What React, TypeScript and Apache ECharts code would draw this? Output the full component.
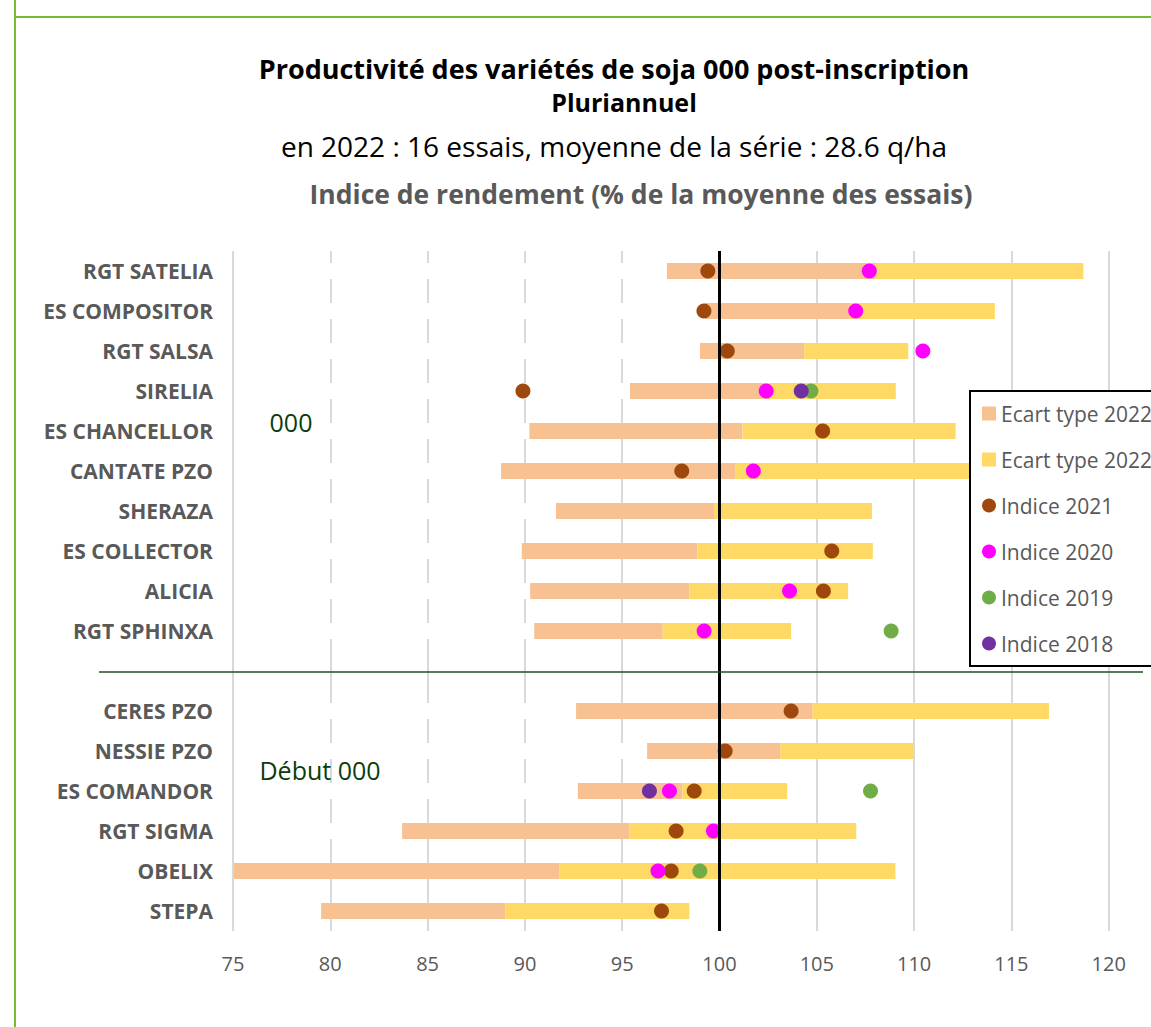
import React, { useEffect, useRef } from "react";
import * as echarts from "echarts";

const categories = [
  "RGT SATELIA", "ES COMPOSITOR", "RGT SALSA", "SIRELIA", "ES CHANCELLOR",
  "CANTATE PZO", "SHERAZA", "ES COLLECTOR", "ALICIA", "RGT SPHINXA", "",
  "CERES PZO", "NESSIE PZO", "ES COMANDOR", "RGT SIGMA", "OBELIX", "STEPA",
];
const indice2022 = [108.0, 106.7, 104.35, 102.23, 101.18, 100.8, 99.72, 98.86, 98.44, 97.08, null, 104.78, 103.12, 98.1, 95.36, 91.76, 88.99];
const ecartType2022 = [10.7, 7.45, 5.35, 6.83, 10.95, 12.02, 8.12, 9.02, 8.17, 6.6, null, 12.15, 6.84, 5.38, 11.67, 17.28, 9.46];
const indice2021 = [99.4, 99.2, 100.4, 89.9, 105.3, 98.06, null, 105.77, 105.34, null, null, 103.68, 100.29, 98.7, 97.77, 97.52, 97.02];
const indice2020 = [107.7, 107.0, 110.45, 102.4, null, 101.74, null, null, 103.6, 99.21, null, null, null, 97.43, 99.69, 96.84, null];
const indice2019 = [null, null, null, 104.7, null, null, null, null, null, 108.82, null, null, null, 107.76, null, 98.99, null];
const indice2018 = [null, null, null, 104.2, null, null, null, null, null, null, null, null, null, 96.4, null, null, null];
const xTicks = { min: 75, max: 125, interval: 5, lastLabel: 120 };
const titleLines = [
  "Productivité des variétés de soja 000 post-inscription",
  "Pluriannuel",
  "en 2022 : 16 essais, moyenne de la série : 28.6 q/ha",
  "Indice de rendement (% de la moyenne des essais)",
];

const FONT = "'Open Sans', sans-serif";
const GRAY = "#595959";

function points(arr: (number | null)[]) {
  const out: [number, number][] = [];
  arr.forEach((v, i) => {
    if (v != null) out.push([v, i]);
  });
  return out;
}

export default function App() {
  const ref = useRef<HTMLDivElement>(null);
  useEffect(() => {
    if (!ref.current) return;
    const chart = echarts.init(ref.current, undefined, { renderer: "svg" });
    const base = indice2022.map((v, i) => (v == null ? "-" : +(v - (ecartType2022[i] as number)).toFixed(2)));
    const sd = ecartType2022.map((v) => (v == null ? "-" : v));
    const scatter = (name: string, arr: (number | null)[], color: string, z: number) => ({
      name,
      type: "scatter",
      data: points(arr),
      symbolSize: 15,
      itemStyle: { color, opacity: 1 },
      z,
    });
    chart.setOption({
      animation: false,
      backgroundColor: "#ffffff",
      textStyle: { fontFamily: FONT },
      grid: { left: 233, top: 251, width: 973, height: 680 },
      xAxis: {
        type: "value",
        min: xTicks.min,
        max: xTicks.max,
        interval: xTicks.interval,
        axisLine: { show: false },
        axisTick: { show: false },
        axisLabel: {
          color: GRAY,
          fontSize: 20,
          fontFamily: FONT,
          margin: 22,
          formatter: (v: number) => (v > xTicks.lastLabel ? "" : String(v)),
        },
        splitLine: { show: true, lineStyle: { color: "#d9d9d9", width: 2 } },
      },
      yAxis: {
        type: "category",
        inverse: true,
        data: categories,
        axisLine: { show: false },
        axisTick: { show: false },
        axisLabel: { color: GRAY, fontSize: 21, fontWeight: "bold", fontFamily: FONT, margin: 20 },
        splitLine: { show: false },
      },
      legend: {
        orient: "vertical",
        left: 970,
        top: 391,
        z: 30,
        backgroundColor: "#ffffff",
        borderColor: "#000000",
        borderWidth: 2,
        borderRadius: 0,
        padding: [12, 40, 12, 12],
        itemWidth: 14,
        itemHeight: 14,
        itemGap: 25,
        itemStyle: { borderWidth: 0 },
        textStyle: { color: GRAY, fontSize: 21, fontFamily: FONT, lineHeight: 20 },
        data: [
          { name: "Ecart type 2022 -", icon: "rect" },
          { name: "Ecart type 2022 +", icon: "rect" },
          { name: "Indice 2021", icon: "circle" },
          { name: "Indice 2020", icon: "circle" },
          { name: "Indice 2019", icon: "circle" },
          { name: "Indice 2018", icon: "circle" },
        ],
      },
      series: [
        {
          name: "base",
          type: "bar",
          stack: "a",
          data: base,
          barWidth: 16,
          itemStyle: { color: "#ffffff" },
          silent: true,
          z: 2,
        },
        {
          name: "Ecart type 2022 -",
          type: "bar",
          stack: "a",
          data: sd,
          barWidth: 16,
          itemStyle: { color: "#F8C191" },
          z: 2,
        },
        {
          name: "Ecart type 2022 +",
          type: "bar",
          stack: "a",
          data: sd,
          barWidth: 16,
          itemStyle: { color: "#FFD966" },
          z: 2,
        },
        scatter("Indice 2021", indice2021, "#9E480E", 3),
        scatter("Indice 2020", indice2020, "#FF00FF", 4),
        scatter("Indice 2019", indice2019, "#70AD47", 5),
        scatter("Indice 2018", indice2018, "#7030A0", 6),
        {
          name: "ref",
          type: "line",
          data: [],
          z: 10,
          markLine: {
            silent: true,
            symbol: "none",
            label: { show: false },
            data: [
              { xAxis: 75, lineStyle: { color: "#d9d9d9", width: 2, type: "solid" } },
              { xAxis: 100, lineStyle: { color: "#000000", width: 3, type: "solid" } },
            ],
          },
        },
      ],
      graphic: [
        { type: "line", z: 50, shape: { x1: 15, y1: 0, x2: 15, y2: 1027 }, style: { stroke: "#7AB82E", lineWidth: 2 } },
        { type: "line", z: 50, shape: { x1: 15, y1: 17, x2: 1151, y2: 17 }, style: { stroke: "#7AB82E", lineWidth: 2 } },
        { type: "line", z: 50, shape: { x1: 99, y1: 672, x2: 1143, y2: 672 }, style: { stroke: "#234d22", lineWidth: 1.5 } },
        { type: "text", z: 50, x: 614, y: 68, style: { text: titleLines[0], font: `bold 27px ${FONT}`, fill: "#000", textAlign: "center", textVerticalAlign: "middle" } },
        { type: "text", z: 50, x: 624, y: 102, style: { text: titleLines[1], font: `bold 25px ${FONT}`, fill: "#000", textAlign: "center", textVerticalAlign: "middle" } },
        { type: "text", z: 50, x: 614, y: 146, style: { text: titleLines[2], font: `28px ${FONT}`, fill: "#000", textAlign: "center", textVerticalAlign: "middle" } },
        { type: "text", z: 50, x: 641, y: 194, style: { text: titleLines[3], font: `bold 26.5px ${FONT}`, fill: GRAY, textAlign: "center", textVerticalAlign: "middle" } },
        { type: "text", z: 50, x: 291, y: 422, style: { text: "000", font: `25px ${FONT}`, fill: "#0b3d0b", textAlign: "center", textVerticalAlign: "middle" } },
        { type: "text", z: 50, x: 320, y: 770, style: { text: "Début 000", font: `25px ${FONT}`, fill: "#0b3d0b", textAlign: "center", textVerticalAlign: "middle" } },
      ],
    });
    return () => chart.dispose();
  }, []);
  return (
    <div style={{ position: "absolute", left: 0, top: 0, width: 1151, height: 1027, overflow: "hidden", background: "#fff" }}>
      <div ref={ref} style={{ width: 1300, height: 1027 }} />
    </div>
  );
}
